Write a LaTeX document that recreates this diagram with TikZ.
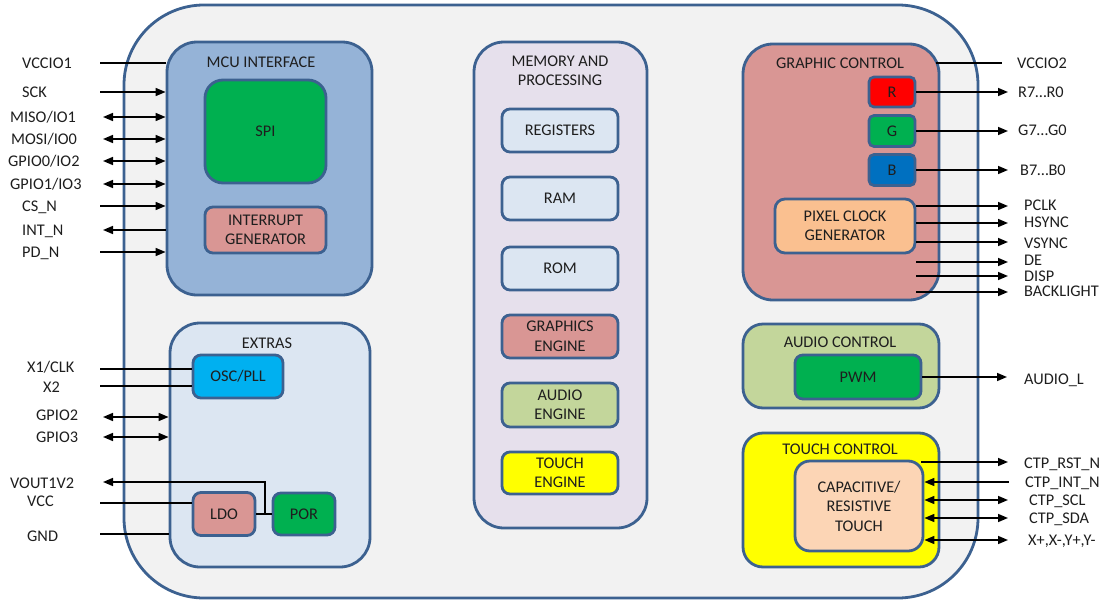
\documentclass[tikz,border=0pt]{standalone}
\usepackage{fontspec}
\setmainfont{Carlito}
\usetikzlibrary{arrows.meta}
\definecolor{bord}{HTML}{3C6190}
\definecolor{outerfill}{HTML}{F2F2F2}
\definecolor{mcufill}{HTML}{95B3D7}
\definecolor{grn}{HTML}{00B050}
\definecolor{rose}{HTML}{D99694}
\definecolor{pale}{HTML}{DCE6F2}
\definecolor{cyanb}{HTML}{00B0F0}
\definecolor{lilac}{HTML}{E6E0EC}
\definecolor{olive}{HTML}{C3D69B}
\definecolor{yel}{HTML}{FFFF00}
\definecolor{redb}{HTML}{FF0000}
\definecolor{blueb}{HTML}{0070C0}
\definecolor{orng}{HTML}{FAC090}
\definecolor{peach}{HTML}{FCD5B5}
\definecolor{txt}{HTML}{1E1E1E}
\begin{document}
\begin{tikzpicture}[x=1pt,y=-1pt,
  every node/.style={font=\fontsize{16.3}{19.5}\selectfont, text=txt},
  blk/.style={draw=bord, line width=2.8pt, align=center, inner sep=0pt},
  sz/.style n args={2}{minimum width=#1pt, minimum height=#2pt},
  ttl/.style={align=center, inner sep=0pt},
  pin/.style={anchor=base west, inner sep=0pt},
  wire/.style={line width=1.6pt, black},
  >={Triangle[length=10pt,width=8pt]}]
\useasboundingbox (0,0) rectangle (1110,605);

% outer chip
\node[blk, fill=outerfill, rounded corners=80pt, sz={854}{593}] (chip) at (551,301.5) {};

% MCU interface
\node[blk, fill=mcufill, rounded corners=30pt, sz={205}{253}] (mcu) at (269.5,168.5) {};
\node[ttl] (mcut) at (261,62) {MCU INTERFACE};
\node[blk, fill=grn, rounded corners=18pt, sz={121}{103}] (spi) at (265.5,131.5) {SPI};
\node[blk, fill=rose, rounded corners=8pt, sz={121}{46}] (intg) at (265.5,230) {INTERRUPT\\GENERATOR};

% Extras
\node[blk, fill=pale, rounded corners=30pt, sz={200}{244}] (extras) at (270,445) {};
\node[ttl] (extrast) at (267,343) {EXTRAS};
\node[blk, fill=cyanb, rounded corners=8pt, sz={90}{43}] (osc) at (238,376.5) {OSC/PLL};
\node[blk, fill=rose, rounded corners=8pt, sz={62}{43}] (ldo) at (224,514) {LDO};
\node[blk, fill=grn, rounded corners=8pt, sz={62}{42}] (por) at (304,514) {POR};

% Memory and processing
\node[blk, fill=lilac, rounded corners=30pt, sz={173}{486}] (mem) at (560.5,285) {};
\node[ttl] (memt) at (560,71) {MEMORY AND\\PROCESSING};
\node[blk, fill=pale, rounded corners=8pt, sz={116}{43}] (regs) at (560,130.5) {REGISTERS};
\node[blk, fill=pale, rounded corners=8pt, sz={116}{43}] (ram) at (560,198.5) {RAM};
\node[blk, fill=pale, rounded corners=8pt, sz={116}{43}] (rom) at (560,268.5) {ROM};
\node[blk, fill=rose, rounded corners=8pt, sz={116}{43}] (geng) at (560,336.5) {GRAPHICS\\ENGINE};
\node[blk, fill=olive, rounded corners=8pt, sz={116}{44}] (aeng) at (560,405) {AUDIO\\ENGINE};
\node[blk, fill=yel, rounded corners=8pt, sz={116}{42}] (teng) at (560,473) {TOUCH\\ENGINE};

% Graphic control
\node[blk, fill=rose, rounded corners=30pt, sz={196}{256}] (gc) at (841,172) {};
\node[ttl] (gct) at (840,63) {GRAPHIC CONTROL};
\node[blk, fill=redb, rounded corners=5pt, sz={46}{30}] (rb) at (892,92) {R};
\node[blk, fill=grn, rounded corners=5pt, sz={46}{31}] (gb) at (892,131) {G};
\node[blk, fill=blueb, rounded corners=5pt, sz={46}{31}] (bb) at (892,170) {B};
\node[blk, fill=orng, rounded corners=10pt, sz={140}{54}] (pcg) at (845,226) {PIXEL CLOCK\\GENERATOR};

% Audio control
\node[blk, fill=olive, rounded corners=20pt, sz={196}{84}] (ac) at (841,366) {};
\node[ttl] (act) at (840,342) {AUDIO CONTROL};
\node[blk, fill=grn, rounded corners=8pt, sz={126}{44}] (pwm) at (858,377) {PWM};

% Touch control
\node[blk, fill=yel, rounded corners=20pt, sz={196}{134}] (tc) at (841,500) {};
\node[ttl] (tct) at (840,449) {TOUCH CONTROL};
\node[blk, fill=peach, rounded corners=15pt, sz={128}{90}] (ct) at (859,506) {CAPACITIVE/\\RESISTIVE\\TOUCH};

% ---------- left pins, MCU ----------
\node[pin] (l-vccio1) at (22,68) {VCCIO1};
\node[pin] (l-sck) at (22,97) {SCK};
\node[pin] (l-miso) at (10,122) {MISO/IO1};
\node[pin] (l-mosi) at (11,144) {MOSI/IO0};
\node[pin] (l-gpio0) at (8,166) {GPIO0/IO2};
\node[pin] (l-gpio1) at (10,189) {GPIO1/IO3};
\node[pin] (l-cs) at (22,211) {CS\_N};
\node[pin] (l-int) at (22,235) {INT\_N};
\node[pin] (l-pd) at (22,257) {PD\_N};
\coordinate (c-vccio1) at (100,63);
\coordinate (c-sck) at (100,92);
\coordinate (c-miso) at (103,117);
\coordinate (c-mosi) at (103,139);
\coordinate (c-gpio0) at (103,161);
\coordinate (c-gpio1) at (103,184);
\coordinate (c-cs) at (100,206);
\coordinate (c-int) at (103,230);
\coordinate (c-pd) at (100,252);
\draw[wire] (c-vccio1) -- (mcu.west |- c-vccio1);
\draw[wire,->] (c-sck) -- (mcu.west |- c-sck);
\draw[wire,<->] (c-miso) -- (mcu.west |- c-miso);
\draw[wire,<->] (c-mosi) -- (mcu.west |- c-mosi);
\draw[wire,<->] (c-gpio0) -- (mcu.west |- c-gpio0);
\draw[wire,<->] (c-gpio1) -- (mcu.west |- c-gpio1);
\draw[wire,->] (c-cs) -- (mcu.west |- c-cs);
\draw[wire,<-] (c-int) -- (mcu.west |- c-int);
\draw[wire,->] (c-pd) -- (mcu.west |- c-pd);

% ---------- left pins, extras ----------
\node[pin] (l-x1) at (27,372) {X1/CLK};
\node[pin] (l-x2) at (43,392) {X2};
\node[pin] (l-gpio2) at (36,420) {GPIO2};
\node[pin] (l-gpio3) at (36,442) {GPIO3};
\node[pin] (l-vout) at (10,488) {VOUT1V2};
\node[pin] (l-vcc) at (27,506) {VCC};
\node[pin] (l-gnd) at (27,541) {GND};
\coordinate (c-x1) at (100,369);
\coordinate (c-x2) at (100,386);
\coordinate (c-gpio2) at (103,417);
\coordinate (c-gpio3) at (103,437);
\coordinate (c-vout) at (103,482);
\coordinate (c-vcc) at (100,503);
\coordinate (c-gnd) at (100,534);
\coordinate (j) at (265,514);
\draw[wire] (c-x1) -- (osc.west |- c-x1);
\draw[wire] (c-x2) -- (osc.west |- c-x2);
\draw[wire,<->] (c-gpio2) -- (extras.west |- c-gpio2);
\draw[wire,<->] (c-gpio3) -- (extras.west |- c-gpio3);
\draw[wire] (c-vcc) -- (ldo.west |- c-vcc);
\draw[wire] (c-gnd) -- (extras.west |- c-gnd);
\draw[wire] (ldo.east) -- (por.west);
\draw[wire,->] (j) |- (c-vout);

% ---------- right pins ----------
\node[pin] (r-vccio2) at (1017,68) {VCCIO2};
\node[pin] (r-r) at (1018,97) {R7…R0};
\node[pin] (r-g) at (1018,135) {G7…G0};
\node[pin] (r-b) at (1020,175) {B7…B0};
\node[pin] (r-pclk) at (1024,210) {PCLK};
\node[pin] (r-hsync) at (1024,227) {HSYNC};
\node[pin] (r-vsync) at (1024,248) {VSYNC};
\node[pin] (r-de) at (1024,265) {DE};
\node[pin] (r-disp) at (1024,281) {DISP};
\node[pin] (r-bl) at (1024,296) {BACKLIGHT};
\node[pin] (r-audio) at (1024,384) {AUDIO\_L};
\node[pin] (r-rst) at (1024,468) {CTP\_RST\_N};
\node[pin] (r-int) at (1025,487) {CTP\_INT\_N};
\node[pin] (r-scl) at (1029,505) {CTP\_SCL};
\node[pin] (r-sda) at (1029,523) {CTP\_SDA};
\node[pin] (r-xy) at (1028,545) {X+,X-,Y+,Y-};

\coordinate (e-vccio2) at (1002,63);
\coordinate (e-r) at (1008,92);
\coordinate (e-g) at (1008,131);
\coordinate (e-b) at (1008,170);
\coordinate (e-pclk) at (1008,206);
\coordinate (e-hsync) at (1008,223);
\coordinate (e-vsync) at (1008,242);
\coordinate (e-de) at (1008,262);
\coordinate (e-disp) at (1008,276);
\coordinate (e-bl) at (1008,292);
\coordinate (e-audio) at (1007,377);
\coordinate (e-rst) at (1008,462);
\coordinate (e-int) at (1009,482);
\coordinate (e-scl) at (1008,500);
\coordinate (e-sda) at (1008,518);
\coordinate (e-xy) at (1008,540);

\draw[wire] ([xshift=-4pt]gc.east |- e-vccio2) -- (e-vccio2);
\draw[wire,->] (rb.east) -- (e-r);
\draw[wire,->] (gb.east) -- (e-g);
\draw[wire,->] (bb.east) -- (e-b);
\draw[wire,->] (pcg.east |- e-pclk) -- (e-pclk);
\draw[wire,->] (pcg.east |- e-hsync) -- (e-hsync);
\draw[wire,->] (pcg.east |- e-vsync) -- (e-vsync);
\draw[wire,->] (pcg.east |- e-de) -- (e-de);
\draw[wire,->] (pcg.east |- e-disp) -- (e-disp);
\draw[wire,->] (pcg.east |- e-bl) -- (e-bl);
\draw[wire,->] (pwm.east) -- (e-audio);
\draw[wire,->] ([xshift=-3pt]ct.east |- e-rst) -- (e-rst);
\draw[wire,<-] (ct.east |- e-int) -- (e-int);
\draw[wire,<->] (ct.east |- e-scl) -- (e-scl);
\draw[wire,<->] (ct.east |- e-sda) -- (e-sda);
\draw[wire,<->] (ct.east |- e-xy) -- (e-xy);
\end{tikzpicture}
\end{document}
